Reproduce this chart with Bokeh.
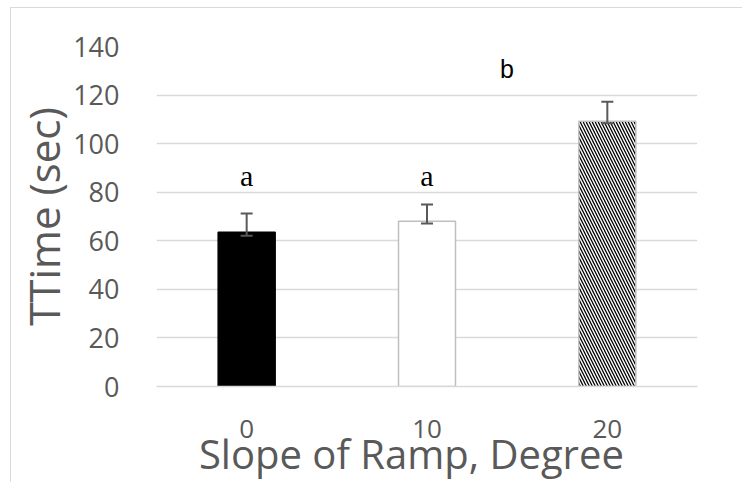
from bokeh.plotting import figure
from bokeh.models import ColumnDataSource, FixedTicker, Whisker, TeeHead
from bokeh.core.properties import value
from bokeh.embed import file_html
from bokeh.resources import INLINE

# Ramp slope groups and mean traversal time (sec) with error bar ends
slopes = ["0", "10", "20"]
mean_time = [63.5, 68.0, 109.2]
err_low = [62.1, 67.1, 108.4]
err_high = [71.2, 74.9, 117.3]
y_ticks = [0, 20, 40, 60, 80, 100, 120, 140]

# Significance groups
serif_letters = ["a", "a"]
serif_slopes = ["0", "10"]
sans_letters = ["b"]
sans_slopes = ["10"]

GRID = "#d9d9d9"
TEXT = "#595959"
FONT = "Open Sans"

p = figure(
    x_range=slopes, y_range=(0, 140),
    width=732, height=475,
    output_backend="svg", toolbar_location=None,
    min_border_left=145, min_border_right=46,
    min_border_top=38, min_border_bottom=97,
)
p.margin = (7, 0, 0, 10)
p.styles = {"border-left": f"1px solid {GRID}", "border-top": f"1px solid {GRID}"}
p.outline_line_color = None
p.background_fill_color = "white"
p.border_fill_color = "white"

src = ColumnDataSource(dict(
    slope=slopes, mean=mean_time, low=err_low, high=err_high,
    fill=["black", "white", "white"],
    line=["black", "#bfbfbf", "#bfbfbf"],
    hatch=[" ", " ", "\\"],
))

p.vbar(x="slope", top="mean", width=0.316, source=src,
       fill_color="fill", line_color="line", line_width=1.5,
       hatch_pattern="hatch", hatch_color="black",
       hatch_scale=6, hatch_weight=1.3)

whisker = Whisker(
    base="slope", upper="high", lower="low", source=src,
    line_color=TEXT, line_width=2, level="overlay",
    upper_head=TeeHead(size=12, line_color=TEXT, line_width=2),
    lower_head=TeeHead(size=12, line_color=TEXT, line_width=2),
)
p.add_layout(whisker)

# group letters above the bars
p.text(x=serif_slopes, y=[87.0] * len(serif_slopes), text=serif_letters,
       text_font=value("Liberation Serif"), text_font_size="30px",
       text_color="black", text_align="center", text_baseline="alphabetic")
p.text(x=sans_slopes, y=[130.8], text=sans_letters, x_offset=80,
       text_font=value("Liberation Sans"), text_font_size="25px",
       text_color="black", text_align="center", text_baseline="alphabetic")

# grid
p.xgrid.visible = False
p.ygrid.grid_line_color = GRID
p.ygrid.grid_line_width = 1.5

# y axis
p.yaxis.ticker = FixedTicker(ticks=y_ticks)
p.yaxis.axis_line_color = None
p.yaxis.major_tick_line_color = None
p.yaxis.minor_tick_line_color = None
p.yaxis.major_label_standoff = 31
p.yaxis.major_label_text_font = FONT
p.yaxis.major_label_text_font_size = "27px"
p.yaxis.major_label_text_color = TEXT
p.yaxis.axis_label = "TTime (sec)"
p.yaxis.axis_label_text_font = FONT
p.yaxis.axis_label_text_font_size = "42px"
p.yaxis.axis_label_text_font_style = "normal"
p.yaxis.axis_label_text_color = TEXT
p.yaxis.axis_label_standoff = -2

# x axis
p.xaxis.axis_line_color = GRID
p.xaxis.axis_line_width = 1.5
p.xaxis.major_tick_line_color = None
p.xaxis.minor_tick_line_color = None
p.xaxis.major_label_standoff = 27
p.xaxis.major_label_text_font = FONT
p.xaxis.major_label_text_font_size = "26px"
p.xaxis.major_label_text_color = TEXT
# trailing no-break spaces pull the centred title a little to the left
p.xaxis.axis_label = "Slope of Ramp, Degree" + "\u00a0" * 3
p.xaxis.axis_label_text_font = FONT
p.xaxis.axis_label_text_font_size = "40px"
p.xaxis.axis_label_text_font_style = "normal"
p.xaxis.axis_label_text_color = TEXT
p.xaxis.axis_label_standoff = -15

open("out.html", "w").write(file_html(p, INLINE))
